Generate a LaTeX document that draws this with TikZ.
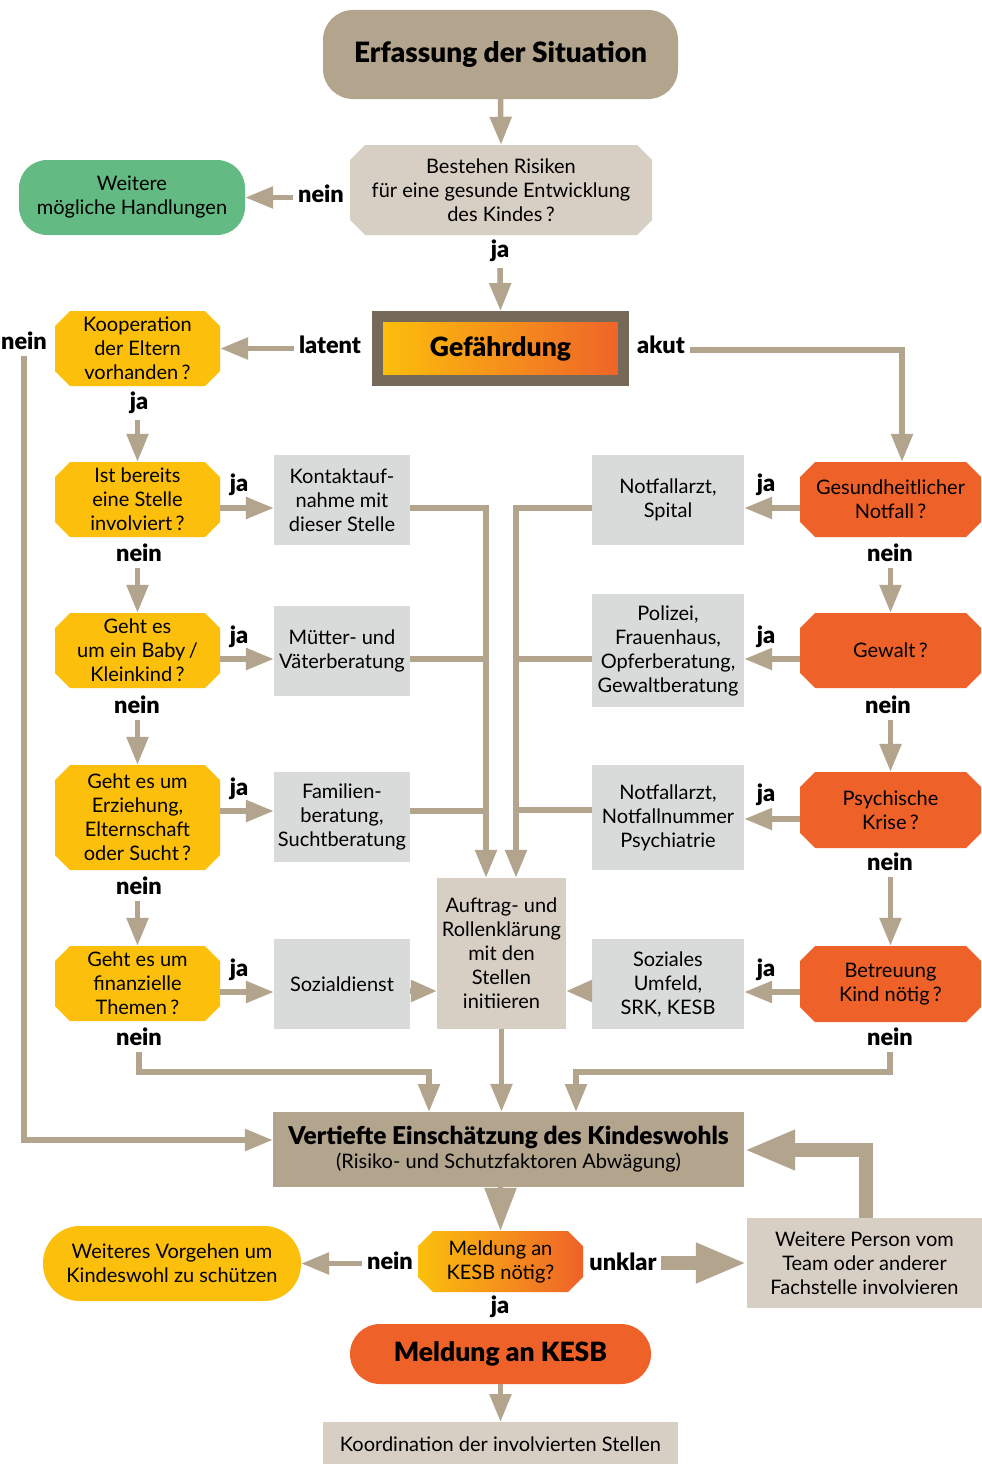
\documentclass[tikz,border=0pt]{standalone}
\usepackage{fontspec}
\setmainfont{Lato}[BoldFont={Lato Black}]
\usetikzlibrary{arrows.meta,calc}
\definecolor{tanC}{HTML}{B3A48E}
\definecolor{beigeC}{HTML}{D8CFC4}
\definecolor{grayC}{HTML}{D9DBDA}
\definecolor{yelC}{HTML}{FCC00C}
\definecolor{oraC}{HTML}{EE6229}
\definecolor{greenC}{HTML}{64BA83}
\definecolor{frameC}{HTML}{756A59}
\newcommand\octnode[7]{%
  \path[#6] (#2+15,#3) -- (#4-15,#3) -- (#4,#3+15) -- (#4,#5-15) -- (#4-15,#5) -- (#2+15,#5) -- (#2,#5-15) -- (#2,#3+15) -- cycle;
  \node[txt, minimum width={#4-#2}, minimum height={#5-#3}] (#1) at ({(#2+#4)/2},{(#3+#5)/2}) {#7};}
\begin{document}
\begin{tikzpicture}[x=1pt,y=-1pt,
  txt/.style={font=\fontsize{20}{24}\selectfont, align=center, inner sep=0pt, text=black},
  head/.style={font=\fontsize{26.5}{30}\selectfont\bfseries},
  lbl/.style={font=\fontsize{23.5}{26}\selectfont\bfseries, inner sep=1pt},
  arr/.style={draw=tanC, line width=5.5pt, -{Triangle[width=21pt,length=28pt]}},
  conn/.style={draw=tanC, line width=5.5pt},
  big/.style={draw=tanC, line width=13.5pt, -{Triangle[width=37pt,length=51pt]}}]
\fill[white] (0,0) rectangle (982,1464);
\useasboundingbox (0,0) rectangle (982,1464);

% top
\node[txt, head, font=\fontsize{28}{30}\selectfont\bfseries, fill=tanC, rounded corners=30pt, minimum width=355, minimum height=89] (erf) at (500.5,54.5) {Erfassung der Situation};
\octnode{best}{350}{145}{652}{235}{fill=beigeC}{Bestehen Risiken\\für eine gesunde Entwicklung\\des Kindes\,?}
\node[txt, fill=greenC, rounded corners=28pt, minimum width=226, minimum height=75] (weit) at (132,197.5) {Weitere\\mögliche Handlungen};
\node[lbl] (l0) at (321,194) {nein};
\node[lbl] (l1) at (500,251) {ja};
\node[txt, head, draw=frameC, line width=11pt, left color=yelC, right color=oraC, minimum width=246, minimum height=64] (gef) at (500.5,348.5) {Gefährdung};
\node[lbl] (llat) at (330,345) {latent};
\node[lbl] (lakut) at (661,345) {akut};

% left column
\octnode{koop}{55}{311}{220}{386}{fill=yelC}{Kooperation\\der Eltern\\vorhanden\,?}
\node[lbl] (lk) at (24,341) {nein};
\node[lbl] (lkj) at (139,403) {ja};
\octnode{q1}{55}{462}{220}{537}{fill=yelC}{Ist bereits\\eine Stelle\\involviert\,?}
\octnode{q2}{55}{613}{220}{688}{fill=yelC}{Geht es\\um ein Baby\,/\\Kleinkind\,?}
\octnode{q3}{55}{765}{220}{870}{fill=yelC}{Geht es um\\Erziehung,\\Elternschaft\\oder Sucht\,?}
\octnode{q4}{55}{946}{220}{1021}{fill=yelC}{Geht es um\\finanzielle\\Themen\,?}
\node[lbl] (lq1) at (139,553) {nein};
\node[lbl] (lq2) at (137,705) {nein};
\node[lbl] (lq3) at (139,886) {nein};
\node[lbl] (lq4) at (139,1037) {nein};
\node[lbl] (jq1) at (239,485) {ja};
\node[lbl] (jq2) at (239,637) {ja};
\node[lbl] (jq3) at (239,789) {ja};
\node[lbl] (jq4) at (239,970) {ja};

\node[txt, fill=grayC, minimum width=136, minimum height=90] (k1) at (342,500) {Kontaktauf-\\nahme mit\\dieser Stelle};
\node[txt, fill=grayC, minimum width=136, minimum height=90] (k2) at (342,651) {Mütter- und\\Väterberatung};
\node[txt, fill=grayC, minimum width=136, minimum height=90] (k3) at (342,817) {Familien-\\beratung,\\Suchtberatung};
\node[txt, fill=grayC, minimum width=136, minimum height=90] (k4) at (342,984) {Sozialdienst};

% centre
\node[txt, fill=beigeC, minimum width=129, minimum height=151] (auf) at (501.5,953.5) {Auftrag- und\\Rollenklärung\\mit den\\Stellen\\initiieren};

% right column
\node[txt, fill=grayC, minimum width=152, minimum height=90] (r1) at (668,500) {Notfallarzt,\\Spital};
\node[txt, fill=grayC, minimum width=152, minimum height=113] (r2) at (668,650.5) {Polizei,\\Frauenhaus,\\Opferberatung,\\Gewaltberatung};
\node[txt, fill=grayC, minimum width=152, minimum height=105] (r3) at (668,817.5) {Notfallarzt,\\Notfallnummer\\Psychiatrie};
\node[txt, fill=grayC, minimum width=152, minimum height=90] (r4) at (668,984) {Soziales\\Umfeld,\\SRK, KESB};
\octnode{o1}{800}{462}{981}{537}{fill=oraC}{Gesundheitlicher\\Notfall\,?}
\octnode{o2}{800}{613}{981}{688}{fill=oraC}{Gewalt\,?}
\octnode{o3}{800}{772}{981}{848}{fill=oraC}{Psychische\\Krise\,?}
\octnode{o4}{800}{946}{981}{1022}{fill=oraC}{Betreuung\\Kind nötig\,?}
\node[lbl] (lo1) at (890,553) {nein};
\node[lbl] (lo2) at (888,705) {nein};
\node[lbl] (lo3) at (890,862) {nein};
\node[lbl] (lo4) at (890,1037) {nein};
\node[lbl] (jo1) at (766,485) {ja};
\node[lbl] (jo2) at (766,637) {ja};
\node[lbl] (jo3) at (766,795) {ja};
\node[lbl] (jo4) at (766,970) {ja};

% bottom
\node[txt, fill=tanC, minimum width=471, minimum height=75] (viert) at (508.5,1149.5) {{\fontsize{24.5}{26}\selectfont\bfseries Vertiefte Einschätzung des Kindeswohls}\\(Risiko- und Schutzfaktoren Abwägung)};
\octnode{mel}{418}{1231}{583}{1292}{left color=yelC,right color=oraC}{Meldung an\\KESB nötig?}
\node[lbl] (lm) at (390,1261) {nein};
\node[txt, fill=yelC, rounded corners=37pt, minimum width=258, minimum height=75] (vorg) at (172,1263.5) {Weiteres Vorgehen um\\Kindeswohl zu schützen};
\node[lbl] (lunk) at (623,1262) {unklar};
\node[txt, fill=beigeC, minimum width=235, minimum height=90] (weitP) at (864.5,1263) {Weitere Person vom\\Team oder anderer\\Fachstelle involvieren};
\node[lbl] (lmj) at (500,1307) {ja};
\node[txt, head, fill=oraC, rounded corners=30pt, minimum width=301, minimum height=60] (kesb) at (500.5,1354) {Meldung an KESB};
\node[txt, fill=beigeC, minimum width=355, minimum height=44, anchor=north] (koord) at (500.5,1422) {Koordination der involvierten Stellen};

% connectors
\coordinate (cL) at (486,508);
\coordinate (cR) at (516,508);
\coordinate (vL) at (429,1112);
\coordinate (vR) at (576,1112);
\draw[arr] (erf.south) -- (best.north);
\draw[arr, shorten <=4pt] (l0.west |- weit.east) -- (weit.east);
\draw[arr, shorten <=5pt] (l1.south) -- (gef.north);
\draw[arr, shorten <=4pt] (llat.west |- koop.east) -- (koop.east);
\draw[arr, shorten <=4pt] (lakut.east |- 0,350) -| ([xshift=11.5pt]o1.north);
\draw[arr, shorten <=5pt] (lk.south) |- ([yshift=9.5pt]viert.west);
\draw[arr, shorten <=5pt] (lkj.south -| q1.north) -- (q1.north);
\draw[arr, shorten <=5pt] (lq1.south -| q2.north) -- (q2.north);
\draw[arr, shorten <=5pt] (lq2.south -| q3.north) -- (q3.north);
\draw[arr, shorten <=5pt] (lq3.south -| q4.north) -- (q4.north);
\draw[arr] (q1.east |- 0,508) -- (k1.west |- 0,508);
\draw[arr] (q2.east |- 0,659) -- (k2.west |- 0,659);
\draw[arr] (q3.east |- 0,811) -- (k3.west |- 0,811);
\draw[arr] (q4.east |- 0,992) -- (k4.west |- 0,992);
\draw[arr] (k1.east |- cL) -| (cL |- auf.north);
\draw[conn] (k2.east |- 0,659) -- (cL |- 0,659);
\draw[conn] (k3.east |- 0,811) -- (cL |- 0,811);
\draw[arr] (r1.west |- cR) -| (cR |- auf.north);
\draw[conn] (r2.west |- 0,659) -- (cR |- 0,659);
\draw[conn] (r3.west |- 0,810) -- (cR |- 0,810);
\draw[arr, -{Triangle[width=21pt,length=26pt]}] (k4.east |- 0,991) -- (auf.west |- 0,991);
\draw[arr, -{Triangle[width=21pt,length=26pt]}] (r4.west |- 0,991) -- (auf.east |- 0,991);
\draw[arr] (o1.west |- 0,508) -- (r1.east |- 0,508);
\draw[arr] (o2.west |- 0,659) -- (r2.east |- 0,659);
\draw[arr] (o3.west |- 0,819) -- (r3.east |- 0,819);
\draw[arr] (o4.west |- 0,992) -- (r4.east |- 0,992);
\draw[arr, shorten <=5pt] (lo1.south -| o2.north) -- (o2.north);
\draw[arr, shorten <=5pt] (lo2.south -| o3.north) -- (o3.north);
\draw[arr, shorten <=5pt] (lo3.south -| o4.north) -- (o4.north);
\draw[arr, shorten <=5pt] (lq4.south) |- (vL |- 0,1072) -- (vL);
\draw[arr, shorten <=5pt] (lo4.south) |- (vR |- 0,1072) -- (vR);
\draw[arr] (auf.south) -- (auf.south |- viert.north);
\draw[arr, -{Triangle[width=31pt,length=43pt]}] (mel.north |- viert.south) -- (mel.north);
\draw[arr, shorten <=4pt] (lm.west |- vorg.east) -- (vorg.east);
\draw[big, shorten <=3pt] (lunk.east |- 0,1263) -- (weitP.west |- 0,1263);
\draw[big] (weitP.north -| 866,0) |- (viert.east |- 0,1150);
\draw[arr] (kesb.south) -- (koord.north);
\end{tikzpicture}
\end{document}
